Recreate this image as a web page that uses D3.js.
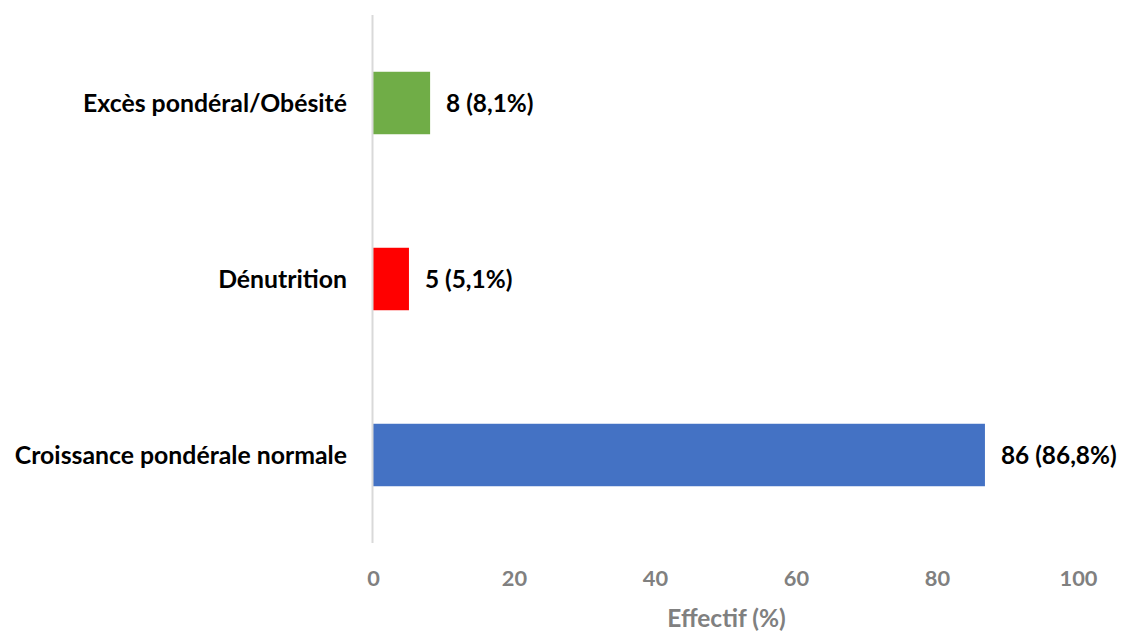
<!DOCTYPE html>
<html>
<head>
<meta charset="utf-8">
<script src="https://cdn.jsdelivr.net/npm/d3@7"></script>
<style>
  body { margin: 0; background: #fff; }
  svg { display: block; font-family: Lato, "Open Sans", sans-serif; }
</style>
</head>
<body>
<svg id="chart" width="1121" height="631"></svg>
<script>
// Weight-growth categories, top to bottom
const categories = ["Excès pondéral/Obésité", "Dénutrition", "Croissance pondérale normale"];
const counts = [8, 5, 86];
const percents = [8.1, 5.1, 86.8];
const barColors = ["#70ad47", "#ff0000", "#4472c4"];
const xTicks = [0, 20, 40, 60, 80, 100];
const xTitle = "Effectif (%)";

const rows = categories.map((c, i) => ({ cat: c, n: counts[i], pct: percents[i], color: barColors[i] }));

const svg = d3.select("#chart");
const plotLeft = 373, plotRight = 1078, plotTop = 15, plotBottom = 543;

const x = d3.scaleLinear().domain([0, 100]).range([plotLeft, plotRight]);
const y = d3.scaleBand().domain(categories).range([plotTop, plotBottom])
  .paddingInner(0.645).paddingOuter(0.3225);

// bars
svg.append("g").selectAll("rect").data(rows).join("rect")
  .attr("x", x(0))
  .attr("y", d => y(d.cat))
  .attr("width", d => x(d.pct) - x(0))
  .attr("height", y.bandwidth())
  .attr("fill", d => d.color);

// vertical category axis line
svg.append("line")
  .attr("x1", plotLeft - 0.5).attr("x2", plotLeft - 0.5)
  .attr("y1", plotTop).attr("y2", plotBottom)
  .attr("stroke", "#d9d9d9").attr("stroke-width", 2);

// category labels
svg.append("g").selectAll("text").data(rows).join("text")
  .attr("x", 347)
  .attr("y", d => y(d.cat) + y.bandwidth() / 2)
  .attr("dy", "0.35em")
  .attr("text-anchor", "end")
  .attr("font-size", 24.8).attr("font-weight", "bold").attr("fill", "#000")
  .text(d => d.cat);

// value labels
svg.append("g").selectAll("text").data(rows).join("text")
  .attr("x", d => x(d.pct) + 16)
  .attr("y", d => y(d.cat) + y.bandwidth() / 2)
  .attr("dy", "0.35em")
  .attr("font-size", 24.4).attr("font-weight", "bold").attr("fill", "#000")
  .text(d => `${d.n} (${d3.format(".1f")(d.pct).replace(".", ",")}%)`);

// x axis ticks
const xAxis = d3.axisBottom(x).tickValues(xTicks).tickSize(0).tickPadding(0);
const gx = svg.append("g").attr("transform", `translate(0, ${plotBottom})`).call(xAxis);
gx.select(".domain").remove();
gx.selectAll("text")
  .attr("y", 35)
  .attr("dy", "0.35em")
  .attr("font-family", "Lato, 'Open Sans', sans-serif")
  .attr("font-size", 21.8).attr("font-weight", "bold").attr("fill", "#808080");

// x axis title
svg.append("text")
  .attr("x", (plotLeft + plotRight) / 2 + 1)
  .attr("y", 618)
  .attr("dy", "0.35em")
  .attr("text-anchor", "middle")
  .attr("font-size", 24.5).attr("font-weight", "bold").attr("fill", "#808080")
  .text(xTitle);
</script>
</body>
</html>
